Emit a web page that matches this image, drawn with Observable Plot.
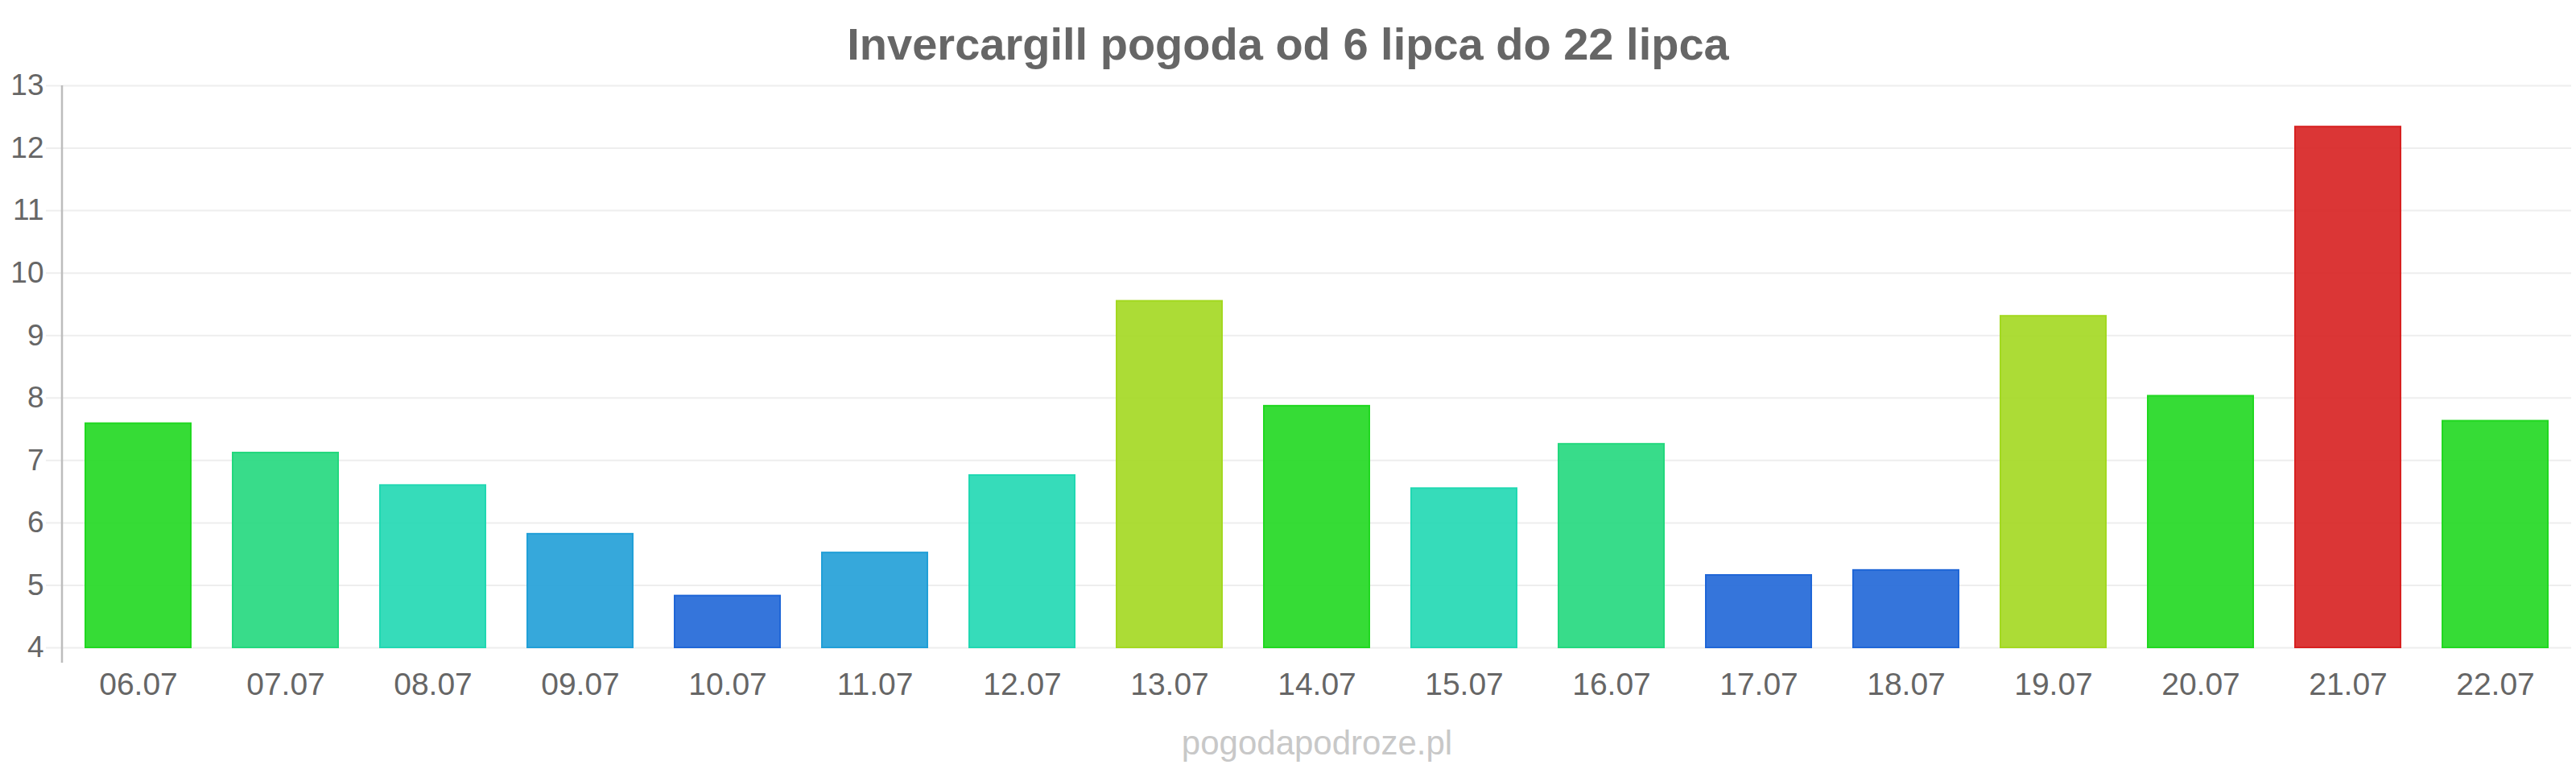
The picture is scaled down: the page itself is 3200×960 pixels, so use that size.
<!DOCTYPE html>
<html>
<head>
<meta charset="utf-8">
<script src="https://cdn.jsdelivr.net/npm/d3@7"></script>
<script src="https://cdn.jsdelivr.net/npm/@observablehq/plot@0.6"></script>
<style>
  html, body { margin: 0; padding: 0; background: #fff; }
  body { width: 3200px; height: 960px; overflow: hidden; font-family: "Liberation Sans", Arial, sans-serif; }
  #title { box-sizing: border-box; height: 90px; padding-top: 27px; font-size: 56px; line-height: 56px; font-weight: bold; color: #666; text-align: center; }
  #chart { height: 800px; }
  #caption { box-sizing: border-box; padding-top: 12px; padding-left: 72px; font-size: 42px; line-height: 42px; color: #c8c8c8; text-align: center; }
</style>
</head>
<body>
<div id="title">Invercargill pogoda od 6 lipca do 22 lipca</div>
<div id="chart"></div>
<div id="caption">pogodapodroze.pl</div>
<script>
const dates = ["06.07","07.07","08.07","09.07","10.07","11.07","12.07","13.07","14.07","15.07","16.07","17.07","18.07","19.07","20.07","21.07","22.07"];
const temps = [7.59, 7.12, 6.60, 5.82, 4.83, 5.52, 6.76, 9.55, 7.87, 6.55, 7.26, 5.16, 5.24, 9.31, 8.03, 12.34, 7.63];
const yTicks = [4, 5, 6, 7, 8, 9, 10, 11, 12, 13];
const colorThresholds = [5.4, 6, 7, 7.5, 9, 10];
const colorRange = ["#1f66d7", "#209fd7", "#20d8b2", "#22d87d", "#20d820", "#a3d820", "#d72020"];

const data = dates.map((d, i) => ({date: d, temp: temps[i]}));
const yMin = yTicks[0], yMax = yTicks[yTicks.length - 1];

const chart = Plot.plot({
  width: 3200,
  height: 800,
  marginTop: 16,
  marginBottom: 86,
  marginLeft: 77,
  marginRight: 6,
  style: {fontFamily: "'Liberation Sans', Arial, sans-serif", background: "transparent", overflow: "visible"},
  x: {domain: dates, paddingInner: 0.285, paddingOuter: 0.1425, label: null},
  y: {domain: [yMin, yMax], label: null},
  color: {type: "threshold", domain: colorThresholds, range: colorRange},
  marks: [
    Plot.gridY(yTicks, {stroke: "#eeeeee", strokeOpacity: 1, strokeWidth: 2}),
    Plot.axisY(yTicks, {tickSize: 20, tickPadding: 3, tickFormat: "d", stroke: "#eeeeee", strokeWidth: 2, fill: "#666", fontSize: 37, label: null}),
    Plot.axisX({tickSize: 0, tickPadding: 31, fill: "#666", fontSize: 39, label: null}),
    Plot.barY(data, {x: "date", y1: () => yMin, y2: "temp", fill: "temp", fillOpacity: 0.9, stroke: "temp", strokeWidth: 2})
  ]
});

const xs = chart.scale("x"), ys = chart.scale("y");
d3.select(chart).append("line")
  .attr("x1", xs.range[0]).attr("x2", xs.range[0])
  .attr("y1", ys.apply(yMax)).attr("y2", ys.apply(yMin) + 19)
  .attr("stroke", "#bdbdbd").attr("stroke-width", 2.5);

document.getElementById("chart").appendChild(chart);
</script>
</body>
</html>
